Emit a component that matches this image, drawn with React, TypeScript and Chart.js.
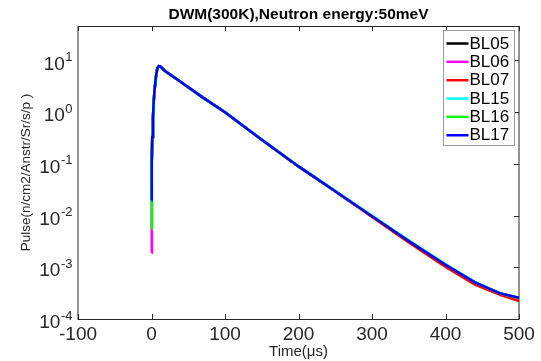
import React, { useEffect, useRef } from "react";
import { Chart, registerables } from "chart.js";

Chart.register(...registerables);

const titleText = "DWM(300K),Neutron energy:50meV";
const xTitle = "Time(\u03bcs)";
const yTitle = "Pulse(n/cm2/Anstr/Sr/s/p )";

const xTicks = [-100, 0, 100, 200, 300, 400, 500];
const yExponents = [-4, -3, -2, -1, 0, 1];

const times = [0, 0.3, 1, 2, 3, 4, 6, 8, 10, 12, 18, 40, 70, 100, 150, 200, 250, 300, 350, 400, 440, 475, 500];

const BL05 = [0.024, 0.1, 0.33, 0.8, 1.6, 2.5, 4.8, 7.0, 7.7, 7.6, 6.3, 3.8, 1.9, 0.99, 0.29, 0.089, 0.0295, 0.0097, 0.0032, 0.00111, 0.00051, 0.00031, 0.000255];
const BL06 = [0.0019, 0.1, 0.33, 0.8, 1.6, 2.5, 4.8, 7.0, 7.7, 7.6, 6.3, 3.8, 1.9, 0.99, 0.29, 0.089, 0.0295, 0.0097, 0.0032, 0.00111, 0.0005, 0.0003, 0.00025];
const BL07 = [0.021, 0.1, 0.33, 0.8, 1.6, 2.5, 4.8, 7.0, 7.7, 7.6, 6.3, 3.8, 1.9, 0.99, 0.29, 0.088, 0.0292, 0.0094, 0.003, 0.00101, 0.00046, 0.00029, 0.000222];
const BL15 = [0.0178, 0.1, 0.33, 0.8, 1.6, 2.5, 4.8, 7.0, 7.7, 7.6, 6.3, 3.8, 1.9, 0.99, 0.29, 0.089, 0.0296, 0.0098, 0.0033, 0.00113, 0.00051, 0.00031, 0.000255];
const BL16 = [0.0057, 0.1, 0.33, 0.8, 1.6, 2.5, 4.8, 7.0, 7.7, 7.6, 6.3, 3.8, 1.9, 0.99, 0.29, 0.09, 0.0298, 0.0099, 0.0033, 0.00114, 0.00052, 0.00031, 0.000255];
const BL17 = [0.0197, 0.1, 0.33, 0.8, 1.6, 2.5, 4.8, 7.0, 7.7, 7.6, 6.3, 3.8, 1.9, 0.99, 0.29, 0.089, 0.0295, 0.0097, 0.0032, 0.00111, 0.00051, 0.00031, 0.000257];

const seriesNames = ["BL05", "BL06", "BL07", "BL15", "BL16", "BL17"];
const seriesValues = [BL05, BL06, BL07, BL15, BL16, BL17];
const seriesColors = ["#000000", "#ff00ff", "#ff0000", "#00ffff", "#00ff00", "#0000ff"];

const FONT = "'Liberation Sans', Arial, Helvetica, sans-serif";

const decorPlugin = {
  id: "decor",
  afterDraw(chart: any) {
    const { ctx, chartArea } = chart;
    const { left, right, top, bottom } = chartArea;
    const xs = chart.scales.x;
    const ys = chart.scales.y;
    ctx.save();
    // axes box
    ctx.strokeStyle = "#262626";
    ctx.lineWidth = 1;
    ctx.beginPath();
    ctx.moveTo(left, bottom + 0.5);
    ctx.lineTo(right, bottom + 0.5);
    ctx.moveTo(left, top + 0.5);
    ctx.lineTo(right, top + 0.5);
    ctx.moveTo(left, top);
    ctx.lineTo(left, bottom + 1);
    ctx.moveTo(right, top);
    ctx.lineTo(right, bottom + 1);
    ctx.stroke();
    // x ticks
    ctx.beginPath();
    xTicks.forEach((v) => {
      const px = Math.round(xs.getPixelForValue(v)) + 0.5;
      ctx.moveTo(px, bottom);
      ctx.lineTo(px, bottom - 5);
      ctx.moveTo(px, top);
      ctx.lineTo(px, top + 5);
    });
    yExponents.forEach((e) => {
      const py = Math.round(ys.getPixelForValue(Math.pow(10, e))) + 0.5;
      ctx.moveTo(right, py);
      ctx.lineTo(right - 5, py);
    });
    ctx.stroke();
    // x tick labels
    ctx.fillStyle = "#262626";
    ctx.font = `19px ${FONT}`;
    ctx.textAlign = "center";
    ctx.textBaseline = "middle";
    xTicks.forEach((v) => {
      ctx.fillText(String(v), xs.getPixelForValue(v), bottom + 16);
    });
    // y tick labels
    yExponents.forEach((e) => {
      const py = ys.getPixelForValue(Math.pow(10, e));
      const exp = String(e);
      ctx.font = `13px ${FONT}`;
      const we = ctx.measureText(exp).width;
      ctx.textAlign = "right";
      ctx.fillText(exp, left - 5.5, py - 3);
      ctx.font = `19px ${FONT}`;
      ctx.fillText("10", left - 5.5 - we - 0.5, py + 4);
    });
    // title
    ctx.fillStyle = "#000000";
    ctx.font = `bold 15.5px ${FONT}`;
    ctx.textAlign = "center";
    ctx.fillText(titleText, (left + right) / 2, 15);
    // x title
    ctx.fillStyle = "#262626";
    ctx.font = `15px ${FONT}`;
    ctx.fillText(xTitle, (left + right) / 2, 352);
    // y title
    ctx.save();
    ctx.translate(26.5, (top + bottom) / 2);
    ctx.rotate(-Math.PI / 2);
    ctx.font = `13.5px ${FONT}`;
    ctx.fillText(yTitle, 0, 0);
    ctx.restore();
    // legend
    const lx0 = 443.5, lx1 = 514.5, ly0 = 30.5, ly1 = 145.5;
    ctx.fillStyle = "#ffffff";
    ctx.fillRect(lx0, ly0, lx1 - lx0, ly1 - ly0);
    ctx.strokeStyle = "#9a9a9a";
    ctx.lineWidth = 1;
    ctx.strokeRect(lx0, ly0, lx1 - lx0, ly1 - ly0);
    seriesNames.forEach((name, i) => {
      const y = 43.5 + i * 18.35;
      ctx.strokeStyle = seriesColors[i];
      ctx.lineWidth = 2.5;
      ctx.beginPath();
      ctx.moveTo(446.5, y);
      ctx.lineTo(468.5, y);
      ctx.stroke();
      ctx.fillStyle = "#000000";
      ctx.font = `17px ${FONT}`;
      ctx.textAlign = "left";
      ctx.textBaseline = "middle";
      ctx.fillText(name, 469.5, y + 0.5);
    });
    ctx.restore();
  },
};

export default function App() {
  const ref = useRef<HTMLCanvasElement | null>(null);
  useEffect(() => {
    if (!ref.current) return;
    const datasets = seriesNames.map((name, i) => ({
      label: name,
      data: times.map((t, j) => ({ x: t, y: seriesValues[i][j] })),
      borderColor: seriesColors[i],
      backgroundColor: seriesColors[i],
      borderWidth: 2.5,
      pointRadius: 0,
      tension: 0,
      fill: false,
      order: seriesNames.length - i,
    }));
    const chart = new Chart(ref.current, {
      type: "line",
      data: { datasets },
      options: {
        responsive: false,
        animation: false,
        devicePixelRatio: 1,
        layout: { padding: { top: 26, right: 22, left: 0, bottom: 0 } },
        plugins: { legend: { display: false }, title: { display: false }, tooltip: { enabled: false } },
        scales: {
          x: {
            type: "linear",
            min: -100,
            max: 500,
            bounds: "data",
            grid: { display: false, drawTicks: false },
            border: { display: false },
            ticks: { display: false, stepSize: 100 },
            afterFit: (s: any) => { s.height = 42; },
          },
          y: {
            type: "logarithmic",
            min: 1e-4,
            max: 46,
            bounds: "data",
            grid: { display: false, drawTicks: false },
            border: { display: false },
            ticks: { display: false },
            afterFit: (s: any) => { s.width = 78; },
          },
        },
      },
      plugins: [decorPlugin],
    });
    return () => chart.destroy();
  }, []);
  return (
    <div style={{ position: "fixed", left: 0, top: 0, width: 541, height: 361, background: "#fff" }}>
      <canvas ref={ref} width={541} height={361} style={{ display: "block" }} />
    </div>
  );
}
